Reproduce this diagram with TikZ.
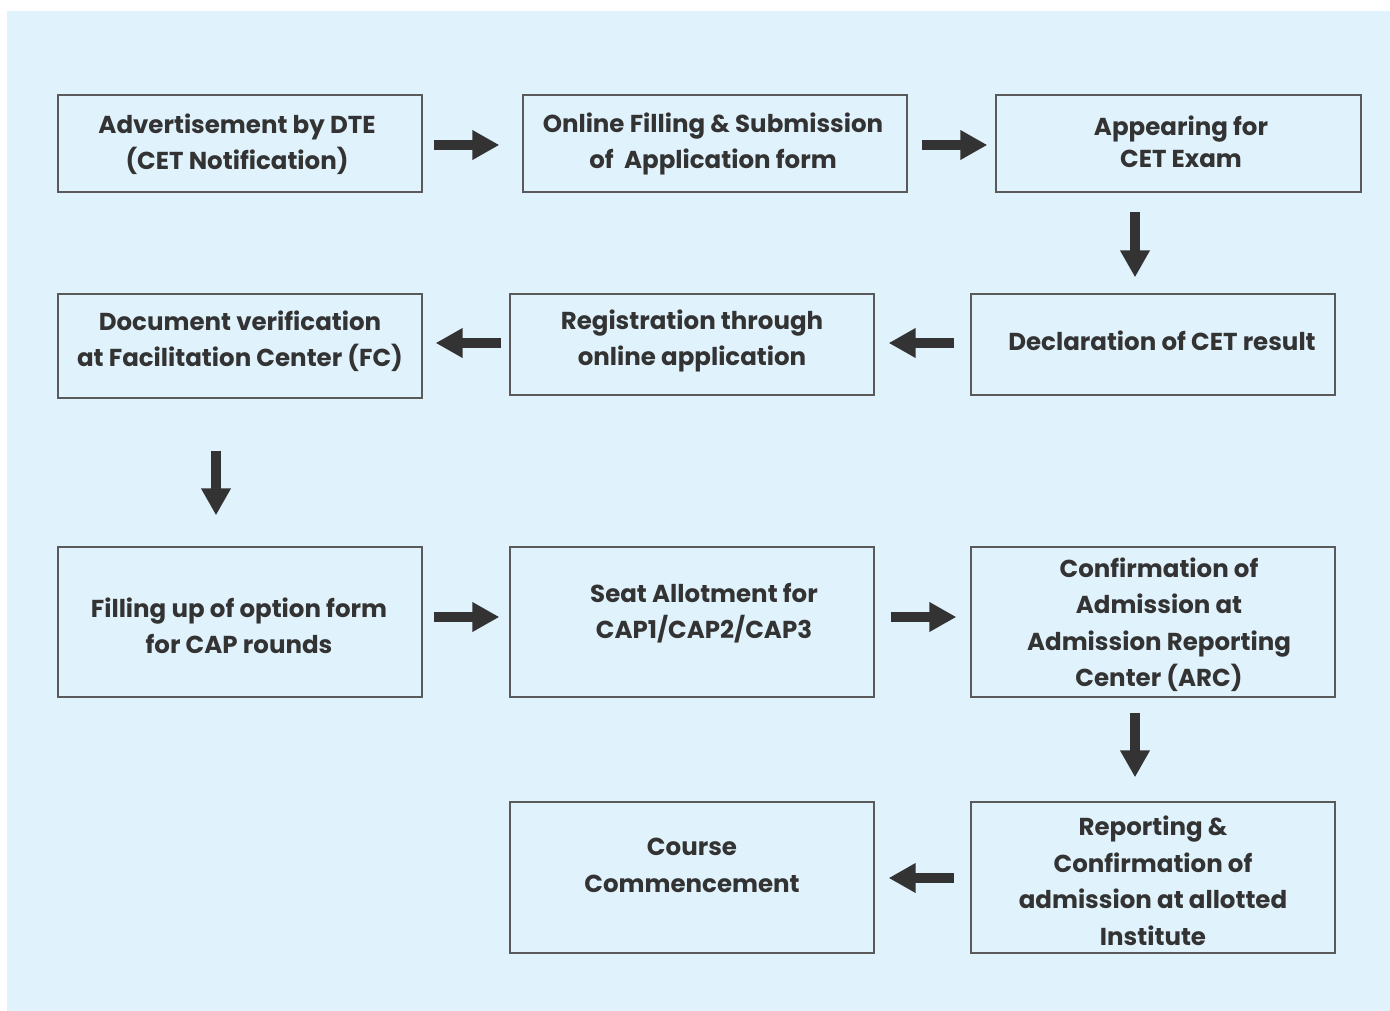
\documentclass[tikz,border=0pt]{standalone}
\usepackage{fontspec}
\setmainfont{Poppins}
\usetikzlibrary{arrows.meta,calc}
\definecolor{bgblue}{HTML}{E0F2FC}
\definecolor{boxline}{HTML}{5A5A5A}
\definecolor{ink}{HTML}{333333}
\begin{document}
\begin{tikzpicture}[x=1pt,y=-1pt,
  stepbox/.style={draw=boxline,line width=1.3pt,fill=none,inner sep=0pt},
  lbl/.style={text=ink,font=\fontsize{24.5}{36.5}\selectfont\bfseries,align=center,inner sep=0pt},
  arr/.style={draw=ink,line width=10.5pt,-{Triangle[length=27pt,width=28pt]}}]
\useasboundingbox (0,0) rectangle (1390,1011);
\fill[white] (0,0) rectangle (1390,1011);
\fill[bgblue] (7,11) rectangle (1390,1011);
% boxes
\node[stepbox,minimum width=364pt,minimum height=97pt] (b1) at (240,143.5) {};
\node[stepbox,minimum width=384pt,minimum height=97pt] (b2) at (715,143.5) {};
\node[stepbox,minimum width=365pt,minimum height=97pt] (b3) at (1178.5,143.5) {};
\node[stepbox,minimum width=364pt,minimum height=104pt] (b4) at (240,346) {};
\node[stepbox,minimum width=364pt,minimum height=101pt] (b5) at (692,344.5) {};
\node[stepbox,minimum width=364pt,minimum height=101pt] (b6) at (1153,344.5) {};
\node[stepbox,minimum width=364pt,minimum height=150pt] (b7) at (240,622) {};
\node[stepbox,minimum width=364pt,minimum height=150pt] (b8) at (692,622) {};
\node[stepbox,minimum width=364pt,minimum height=150pt] (b9) at (1153,622) {};
\node[stepbox,minimum width=364pt,minimum height=151pt] (b10) at (692,877.5) {};
\node[stepbox,minimum width=364pt,minimum height=151pt] (b11) at (1153,877.5) {};
% texts
\node[lbl] (t1) at (237,144) {Advertisement by DTE\\(CET Notification)};
\node[lbl] (t2) at (713,144) {Online Filling \& Submission\\of\ \ Application form};
\node[lbl,font=\fontsize{24.5}{32}\selectfont\bfseries] (t3) at (1181,142) {Appearing for\\CET Exam};
\node[lbl] (t4) at (240,341) {Document verification\\at Facilitation Center (FC)};
\node[lbl] (t5) at (692,341) {Registration through\\online application};
\node[lbl] (t6) at (1162,341) {Declaration of CET result};
\node[lbl] (t7) at (239,626) {Filling up of option form\\for CAP rounds};
\node[lbl] (t8) at (704,613) {Seat Allotment for\\CAP1/CAP2/CAP3};
\node[lbl] (t9) at (1159,624.5) {Confirmation of\\Admission at\\Admission Reporting\\Center (ARC)};
\node[lbl] (t10) at (692,865.5) {Course\\Commencement};
\node[lbl] (t11) at (1153,881) {Reporting \&\\Confirmation of\\admission at allotted\\Institute};
% arrow x positions
\coordinate (ax1) at (1135,0);
\coordinate (ax2) at (216,0);
\coordinate (ay1) at (0,145);
\coordinate (ay2) at (0,343);
\coordinate (ay3) at (0,617);
\coordinate (ay4) at (0,878);
% arrows
\draw[arr,shorten <=11pt,shorten >=23pt] (b1.east |- ay1) -- (b2.west |- ay1);
\draw[arr,shorten <=14pt,shorten >=8pt] (b2.east |- ay1) -- (b3.west |- ay1);
\draw[arr,shorten <=19pt,shorten >=16pt] (b3.south -| ax1) -- (b6.north -| ax1);
\draw[arr,shorten <=16pt,shorten >=14pt] (b6.west |- ay2) -- (b5.east |- ay2);
\draw[arr,shorten <=8pt,shorten >=13pt] (b5.west |- ay2) -- (b4.east |- ay2);
\draw[arr,shorten <=52pt,shorten >=31pt] (b4.south -| ax2) -- (b7.north -| ax2);
\draw[arr,shorten <=11pt,shorten >=10pt] (b7.east |- ay3) -- (b8.west |- ay3);
\draw[arr,shorten <=16pt,shorten >=14pt] (b8.east |- ay3) -- (b9.west |- ay3);
\draw[arr,shorten <=15pt,shorten >=24pt] (b9.south -| ax1) -- (b11.north -| ax1);
\draw[arr,shorten <=16pt,shorten >=14pt] (b11.west |- ay4) -- (b10.east |- ay4);
\end{tikzpicture}
\end{document}
